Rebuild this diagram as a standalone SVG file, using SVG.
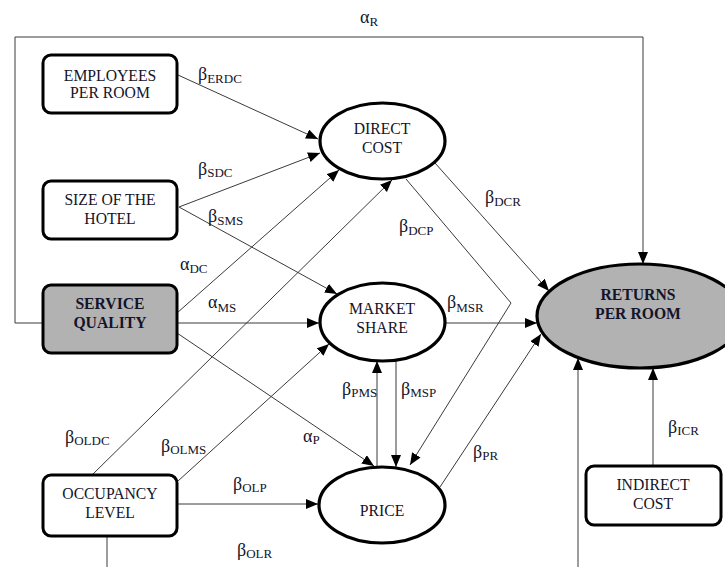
<svg xmlns="http://www.w3.org/2000/svg" width="725" height="567" viewBox="0 0 725 567">
  <defs>
    <marker id="arrow" markerUnits="userSpaceOnUse" markerWidth="13" markerHeight="11" refX="12" refY="5" orient="auto">
      <path d="M0,0 L12,5 L0,10 z" fill="#000"/>
    </marker>
    <style>
      .box { fill: #fff; stroke: #000; stroke-width: 3; }
      .box.grey, .oval.grey { fill: #b2b2b2; }
      .oval { fill: #fff; stroke: #000; stroke-width: 3.2; }
      .lbl { font-family: "Liberation Serif", "Times New Roman", serif; font-size: 15.7px; fill: #14142a; text-anchor: middle; }
      .bold { font-weight: bold; }
      .coef { font-family: "Liberation Serif", "Times New Roman", serif; font-size: 18px; fill: #14142a; }
      .sub { font-size: 13px; }
      .edge { fill: none; stroke: #3a3a3a; stroke-width: 1; }
      .edge.arr { marker-end: url(#arrow); }
    </style>
  </defs>
  <rect width="725" height="567" fill="#fff"/>

  <!-- connectors -->
  <g id="connectors">
    <path class="edge arr" d="M43,323 H15 V37 H643 V264" stroke="#555"/>
    <path class="edge arr" d="M178,75 L318,139"/>
    <path class="edge arr" d="M179,207 L320,153"/>
    <path class="edge arr" d="M177,313 L339,170"/>
    <path class="edge arr" d="M93,474 L392,180"/>
    <path class="edge arr" d="M179,207 L337,294"/>
    <path class="edge arr" d="M177,323 L319,323"/>
    <path class="edge arr" d="M178,481 L329,344"/>
    <path class="edge arr" d="M177,333 L374,466"/>
    <path class="edge arr" d="M177,504 L318,504"/>
    <path class="edge arr" d="M406,179 L511,303 L410,465"/>
    <path class="edge arr" d="M435,163 L549,291"/>
    <path class="edge arr" d="M445,323 L537,323"/>
    <path class="edge arr" d="M440,487 L541,334"/>
    <path class="edge arr" d="M377,467 L377,361"/>
    <path class="edge arr" d="M396,361 L396,467"/>
    <path class="edge arr" d="M653,465 L653,368"/>
    <path class="edge" d="M107,536 L107,567"/>
    <path class="edge arr" d="M578,567 L578,358"/>
  </g>

  <!-- coefficient labels -->
  <g id="coefficients">
    <text class="coef" x="360" y="23">α<tspan class="sub" dy="3">R</tspan></text>
    <text class="coef" x="198" y="80">β<tspan class="sub" dy="3">ERDC</tspan></text>
    <text class="coef" x="198" y="175">β<tspan class="sub" dy="2">SDC</tspan></text>
    <text class="coef" x="208" y="222">β<tspan class="sub" dy="3">SMS</tspan></text>
    <text class="coef" x="180" y="270">α<tspan class="sub" dy="3">DC</tspan></text>
    <text class="coef" x="208" y="308">α<tspan class="sub" dy="4">MS</tspan></text>
    <text class="coef" x="485" y="203">β<tspan class="sub" dy="3">DCR</tspan></text>
    <text class="coef" x="399" y="232">β<tspan class="sub" dy="3">DCP</tspan></text>
    <text class="coef" x="447" y="308">β<tspan class="sub" dy="4">MSR</tspan></text>
    <text class="coef" x="65" y="443">β<tspan class="sub" dy="2">OLDC</tspan></text>
    <text class="coef" x="161" y="452">β<tspan class="sub" dy="2">OLMS</tspan></text>
    <text class="coef" x="303" y="442">α<tspan class="sub" dy="2">P</tspan></text>
    <text class="coef" x="233" y="490">β<tspan class="sub" dy="2">OLP</tspan></text>
    <text class="coef" x="237" y="556">β<tspan class="sub" dy="2">OLR</tspan></text>
    <text class="coef" x="342" y="395">β<tspan class="sub" dy="2">PMS</tspan></text>
    <text class="coef" x="401" y="395">β<tspan class="sub" dy="2">MSP</tspan></text>
    <text class="coef" x="473" y="458">β<tspan class="sub" dy="2">PR</tspan></text>
    <text class="coef" x="668" y="433">β<tspan class="sub" dy="2">ICR</tspan></text>
  </g>

  <!-- nodes -->
  <g id="employees-per-room">
    <rect class="box" x="43" y="55" width="134" height="58" rx="8"/>
    <text class="lbl" x="110" y="81">EMPLOYEES</text>
    <text class="lbl" x="110" y="98">PER ROOM</text>
  </g>
  <g id="size-of-hotel">
    <rect class="box" x="43" y="181" width="134" height="58" rx="8"/>
    <text class="lbl" x="110" y="205">SIZE OF THE</text>
    <text class="lbl" x="110" y="224">HOTEL</text>
  </g>
  <g id="service-quality">
    <rect class="box grey" x="43" y="285" width="134" height="68" rx="8"/>
    <text class="lbl bold" x="110" y="309">SERVICE</text>
    <text class="lbl bold" x="110" y="328">QUALITY</text>
  </g>
  <g id="occupancy-level">
    <rect class="box" x="43" y="475" width="134" height="61" rx="8"/>
    <text class="lbl" x="110" y="499">OCCUPANCY</text>
    <text class="lbl" x="110" y="518">LEVEL</text>
  </g>
  <g id="indirect-cost">
    <rect class="box" x="586" y="466" width="135" height="59" rx="8"/>
    <text class="lbl" x="653" y="490">INDIRECT</text>
    <text class="lbl" x="653" y="509">COST</text>
  </g>
  <g id="direct-cost">
    <ellipse class="oval" cx="382.5" cy="141" rx="62.5" ry="38"/>
    <text class="lbl" x="382" y="134">DIRECT</text>
    <text class="lbl" x="382" y="153">COST</text>
  </g>
  <g id="market-share">
    <ellipse class="oval" cx="382.5" cy="322" rx="62.5" ry="39"/>
    <text class="lbl" x="382" y="314">MARKET</text>
    <text class="lbl" x="382" y="333">SHARE</text>
  </g>
  <g id="price">
    <ellipse class="oval" cx="382" cy="505" rx="63" ry="38"/>
    <text class="lbl" x="382" y="516">PRICE</text>
  </g>
  <g id="returns-per-room">
    <ellipse class="oval grey" cx="640" cy="316" rx="103" ry="52"/>
    <text class="lbl bold" x="638" y="300">RETURNS</text>
    <text class="lbl bold" x="638" y="319">PER ROOM</text>
  </g>
</svg>
